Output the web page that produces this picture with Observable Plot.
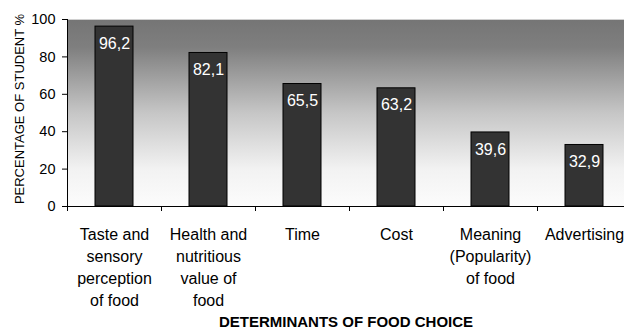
<!DOCTYPE html>
<html>
<head>
<meta charset="utf-8">
<script src="https://cdn.jsdelivr.net/npm/d3@7"></script>
<script src="https://cdn.jsdelivr.net/npm/@observablehq/plot@0.6"></script>
<style>
  html, body { margin: 0; padding: 0; background: #fff; overflow: hidden; }
</style>
</head>
<body>
<div id="chart"></div>
<script>
const categories = [
  "Taste and\nsensory\nperception\nof food",
  "Health and\nnutritious\nvalue of\nfood",
  "Time",
  "Cost",
  "Meaning\n(Popularity)\nof food",
  "Advertising"
];
const values = [96.2, 82.1, 65.5, 63.2, 39.6, 32.9];
const valueLabels = ["96,2", "82,1", "65,5", "63,2", "39,6", "32,9"];
const yTicks = [0, 20, 40, 60, 80, 100];
const yLabel = "PERCENTAGE OF STUDENT %";
const xTitle = "DETERMINANTS OF FOOD CHOICE";

const data = categories.map((c, i) => ({cat: c, value: values[i], label: valueLabels[i]}));

const plot = Plot.plot({
  width: 624,
  height: 333,
  marginTop: 19,
  marginBottom: 127,
  marginLeft: 67,
  marginRight: 0,
  style: {fontFamily: "'Liberation Sans', Arial, sans-serif", background: "#fff", overflow: "hidden"},
  x: {type: "band", domain: categories, range: [67, 631], paddingInner: 0.6, paddingOuter: 0.3},
  y: {domain: [0, 100]},
  marks: [
    Plot.frame({fill: "url(#bgGrad)", stroke: null}),
    Plot.frame({anchor: "top", stroke: "#d0d0d0"}),
    Plot.barY(data, {x: "cat", y: "value", fill: "#333333", stroke: "#000", strokeWidth: 1}),
    Plot.text(data, {x: "cat", y: "value", text: "label", fill: "#fff", fontSize: 16, dy: 17}),
    Plot.ruleY([0], {stroke: "#000"}),
    Plot.frame({anchor: "left", stroke: "#000"}),
    Plot.ruleX(categories, {x: d => d, dx: -47, insetTop: 187, insetBottom: -5, stroke: "#000"}),
    Plot.axisY({ticks: yTicks, tickSize: 5, tickPadding: 7, fontSize: 14.5, label: null, stroke: "#000", color: "#000"}),
    Plot.axisX({tickSize: 0, tickPadding: 18, fontSize: 16, lineHeight: 1.375, label: null, color: "#000"}),
    Plot.text([yLabel], {frameAnchor: "left", textAnchor: "middle", rotate: -90, dx: -48, dy: -4, fontSize: 13, fill: "#000"}),
    Plot.text([xTitle], {frameAnchor: "bottom", textAnchor: "middle", dy: 120, fontSize: 15, fontWeight: "bold", fill: "#000"})
  ]
});

const defs = d3.select(plot).insert("defs", ":first-child");
const grad = defs.append("linearGradient")
  .attr("id", "bgGrad").attr("x1", 0).attr("y1", 0).attr("x2", 0).attr("y2", 1);
grad.append("stop").attr("offset", "0%").attr("stop-color", "#757575");
grad.append("stop").attr("offset", "15%").attr("stop-color", "#7f7f7f");
grad.append("stop").attr("offset", "50%").attr("stop-color", "#c6c6c6");
grad.append("stop").attr("offset", "80%").attr("stop-color", "#f2f2f2");
grad.append("stop").attr("offset", "100%").attr("stop-color", "#fcfcfc");

document.getElementById("chart").appendChild(plot);
</script>
</body>
</html>
